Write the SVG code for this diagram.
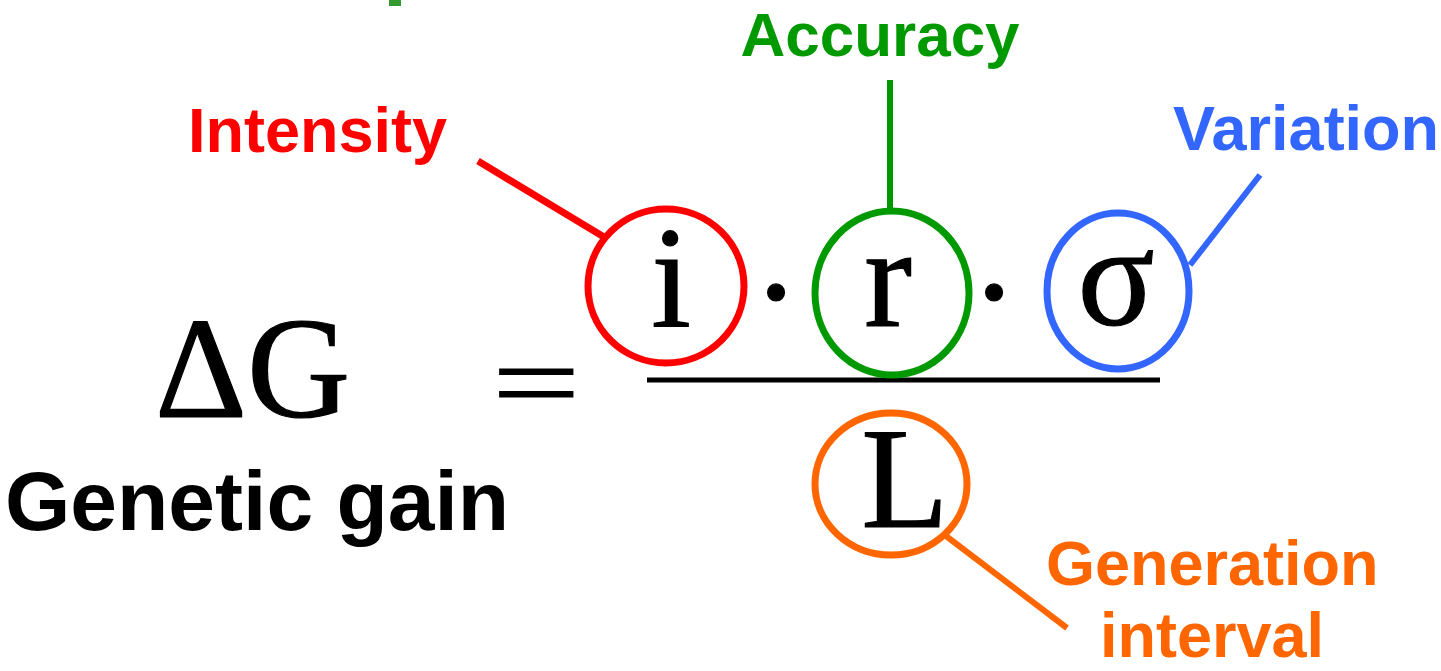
<svg xmlns="http://www.w3.org/2000/svg" width="1441" height="671" viewBox="0 0 1441 671">
<style>
.lbl{font-family:"Liberation Sans",Arial,sans-serif;font-weight:bold}
.math{font-family:"Liberation Serif","Times New Roman",serif;fill:#000;stroke:#000;stroke-width:1.2}
.ell{fill:none;stroke-width:7}
</style>
<rect x="0" y="0" width="1441" height="671" fill="#fff"/>
<rect x="389" y="0" width="12" height="6" fill="#339933"/>
<g id="connectors" fill="none">
  <line x1="478" y1="161" x2="604" y2="237" stroke="#ff0000" stroke-width="7"/>
  <line x1="890" y1="80" x2="890" y2="212" stroke="#009900" stroke-width="6"/>
  <line x1="1260" y1="175" x2="1190" y2="265" stroke="#3366ff" stroke-width="6"/>
  <line x1="946" y1="536" x2="1067" y2="628" stroke="#ff6600" stroke-width="6"/>
  <line x1="647" y1="380" x2="1160" y2="380" stroke="#000" stroke-width="5"/>
</g>
<g id="lhs">
  <text class="math" x="155" y="417" font-size="143">ΔG</text>
  <text class="lbl" x="5" y="530" style="font-size:84px" fill="#000">Genetic gain</text>
</g>
<g id="equals">
  <text class="math" transform="translate(492,420) scale(1.12,0.8)" x="0" y="0" font-size="140">=</text>
</g>
<g id="node-i">
  <ellipse class="ell" cx="666" cy="286" rx="78" ry="77" stroke="#ff0000"/>
  <text class="math" x="671" y="326" font-size="143" text-anchor="middle">i</text>
  <text class="lbl" x="188" y="152" style="font-size:63px" fill="#ff0000">Intensity</text>
</g>
<text class="math" x="776" y="340" font-size="143" text-anchor="middle">·</text>
<g id="node-r">
  <ellipse class="ell" cx="892" cy="293" rx="77" ry="82" stroke="#009900"/>
  <text class="math" x="888" y="326" font-size="143" text-anchor="middle">r</text>
  <text class="lbl" x="880" y="56" text-anchor="middle" style="font-size:62px" fill="#009900">Accuracy</text>
</g>
<text class="math" x="994" y="340" font-size="143" text-anchor="middle">·</text>
<g id="node-sigma">
  <ellipse class="ell" cx="1118" cy="291" rx="71" ry="78" stroke="#3366ff"/>
  <text class="math" x="1116" y="325" font-size="143" text-anchor="middle">σ</text>
  <text class="lbl" x="1173" y="150" style="font-size:63px" fill="#3366ff">Variation</text>
</g>
<g id="node-L">
  <ellipse class="ell" cx="891" cy="484" rx="76" ry="71" stroke="#ff6600"/>
  <text class="math" x="905" y="527" font-size="143" text-anchor="middle">L</text>
  <text class="lbl" x="1046" y="585" style="font-size:63px" fill="#ff6600">Generation</text>
  <text class="lbl" x="1100" y="657" style="font-size:63px" fill="#ff6600">interval</text>
</g>
</svg>
